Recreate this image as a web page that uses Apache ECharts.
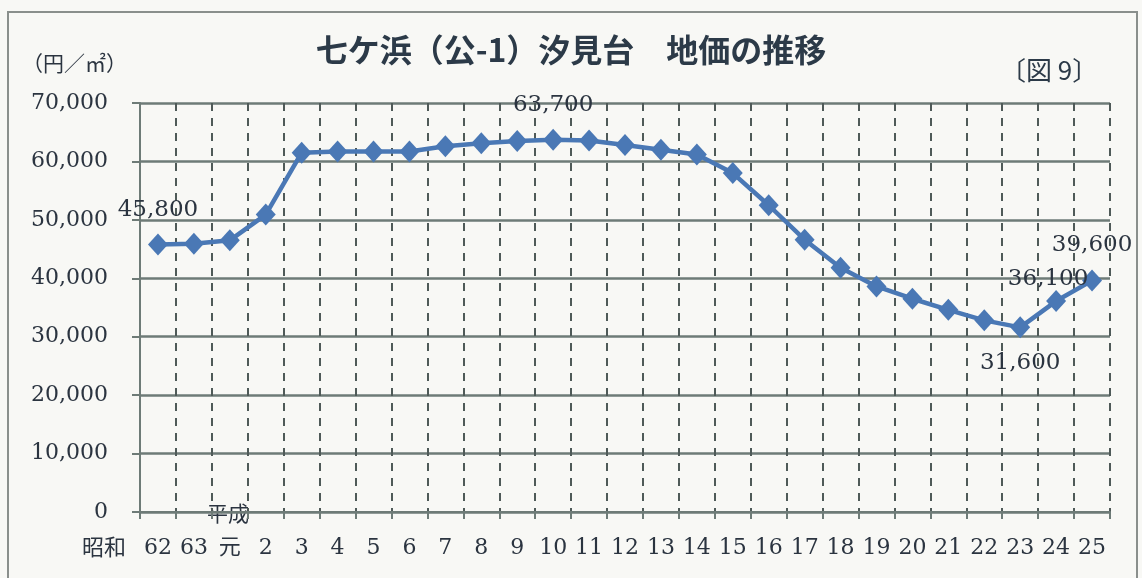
<!DOCTYPE html>
<html>
<head>
<meta charset="utf-8">
<script src="https://cdn.jsdelivr.net/npm/echarts@6/dist/echarts.min.js"></script>
<style>
html,body{margin:0;padding:0;background:#f8f8f5;}
#c{width:1142px;height:578px;}
</style>
</head>
<body>
<div id="c"></div>
<script>
var categories = ['62','63','元','2','3','4','5','6','7','8','9','10','11','12','13','14','15','16','17','18','19','20','21','22','23','24','25'];
var values = [45800,45900,46500,50900,61500,61700,61700,61700,62600,63100,63500,63700,63600,62800,62000,61200,58000,52500,46600,41800,38600,36500,34600,32800,31600,36100,39600];
var labeledIdx = [0, 11, 24, 25, 26];
var yTicks = [0,10000,20000,30000,40000,50000,60000,70000];

var labelStyle = {
  0:  {position:'top', distance: 12},
  11: {position:'top', distance: 12},
  24: {position:'bottom', distance: 13},
  25: {position:'top', distance: 0, offset:[-8,0]},
  26: {position:'top', distance: 13}
};

var txt = '#2b3440';
var gridCol = '#6e7b77';
var serif = '"DejaVu Serif", "Liberation Serif", "Noto Sans CJK JP", serif';

var seriesData = values.map(function(v, i){
  var item = {value: v};
  if (labeledIdx.indexOf(i) >= 0) {
    var s = labelStyle[i];
    item.label = {show:true, position:s.position, distance:s.distance, offset:s.offset || [0,0]};
  }
  return item;
});

var chart = echarts.init(document.getElementById('c'), null, {renderer:'canvas'});
chart.setOption({
  backgroundColor: '#f8f8f5',
  animation: false,
  title: {
    text: '七ケ浜（公-1）汐見台　地価の推移',
    left: 'center',
    top: 29,
    textStyle: {fontFamily:'"Noto Sans CJK JP", sans-serif', fontWeight:'bold', fontSize:32, color:'#2c3a48'}
  },
  graphic: [
    {type:'rect', shape:{x:8, y:12, width:1129, height:600}, style:{fill:null, stroke:'#8a8f8c', lineWidth:2}, silent:true},
    {type:'text', left:22, top:55, style:{text:'（円／㎡）', font:'21px "DejaVu Serif", "Noto Sans CJK JP", serif', fill:txt}},
    {type:'text', left:1000, top:57, style:{text:'〔図 9〕', font:'26px "Noto Sans CJK JP", sans-serif', fill:'#2c3a48'}},
    {type:'text', left:207, top:503, style:{text:'平成', font:'21px "Noto Sans CJK JP", serif', fill:txt}},
    {type:'text', left:82, top:536, style:{text:'昭和', font:'22px "Noto Sans CJK JP", serif', fill:txt}}
  ],
  grid: {left:140, right:32, top:103, bottom:66, containLabel:false},
  xAxis: {
    type:'category',
    data: categories,
    boundaryGap: true,
    axisLine: {show:true, lineStyle:{color:gridCol, width:2}},
    axisTick: {show:true, length:7, inside:false, lineStyle:{color:gridCol, width:2}},
    axisLabel: {show:true, margin:25, fontFamily:serif, fontSize:22, color:txt, interval:0},
    splitLine: {show:true, interval:0, lineStyle:{color:'#4f5a58', width:2, type:[8,7]}}
  },
  yAxis: {
    type:'value',
    min: yTicks[0],
    max: yTicks[yTicks.length-1],
    interval: yTicks[1]-yTicks[0],
    axisLine: {show:true, lineStyle:{color:gridCol, width:2}},
    axisTick: {show:true, length:8, lineStyle:{color:gridCol, width:2}},
    axisLabel: {margin:32, fontFamily:serif, fontSize:22, color:txt,
      formatter: function(v){ return v.toLocaleString('en-US'); }},
    splitLine: {show:true, lineStyle:{color:gridCol, width:2.5}}
  },
  series: [{
    type:'line',
    data: seriesData,
    symbol:'diamond',
    symbolSize:[20,22],
    lineStyle:{color:'#4a78b5', width:4.5},
    itemStyle:{color:'#4a78b5'},
    label:{show:false, fontFamily:serif, fontSize:23, color:txt,
      formatter:function(p){ return p.value.toLocaleString('en-US'); }},
    z:5
  }]
});
</script>
</body>
</html>
